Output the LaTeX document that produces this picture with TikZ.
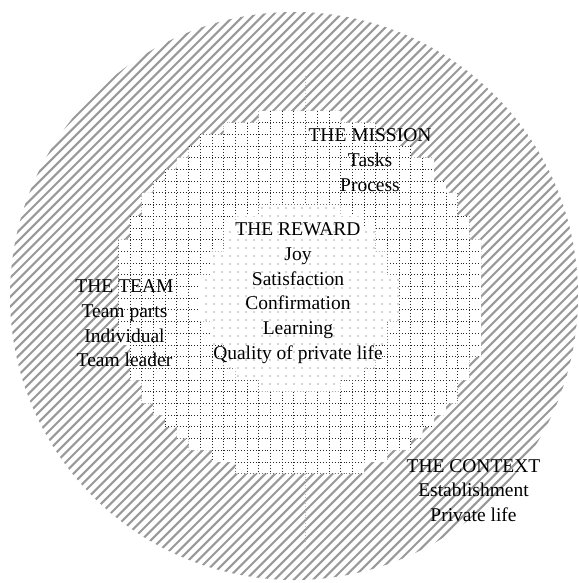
\documentclass[tikz,border=0pt]{standalone}
\usepackage{fontspec}
\setmainfont{Liberation Serif}
\definecolor{stripegray}{gray}{0.6}
\definecolor{dotgray}{gray}{0.3}
\def\s{11.7}
\def\Xz{94.9}
\def\Yz{75.8}
\newcommand\buildstep[4]{%
  \gdef#1{}%
  \foreach \m in {0,...,40} {%
    \pgfmathsetmacro\yt{\Yz+\m*\s}%
    \pgfmathsetmacro\yb{\yt+\s}%
    \pgfmathsetmacro\myt{(\yt+0.5*\s-#3)/#4}%
    \pgfmathsetmacro\hh{#4*sqrt(max(0,1-\myt*\myt))}%
    \pgfmathsetmacro\xl{\Xz+\s*round((#2-\hh-\Xz)/\s)}%
    \pgfmathsetmacro\xr{\Xz+\s*round((#2+\hh-\Xz)/\s)}%
    \xdef#1{#1 (\xl,\yt) rectangle (\xr,\yb)}%
  }%
}
\begin{document}
\begin{tikzpicture}[x=1pt,y=-1pt,
  lbl/.style={anchor=base, inner sep=0pt, font=\fontsize{19.5}{24.5}\selectfont, text=black},
  gridline/.style={draw=black!85, line width=0.8pt, dash pattern=on 0.8pt off 2.125pt},
  stripe/.style={draw=stripegray, line width=2.1pt},
  dotmark/.style={fill=dotgray}]
\useasboundingbox (0,0) rectangle (578,583);
\buildstep{\midpath}{300}{295}{184}
\buildstep{\innpath}{300}{298}{97}
% outer ring: diagonal stripes
\begin{scope}
  \clip (294,296) circle[radius=284pt];
  \foreach \c in {0,9.6,...,1206} \draw[stripe] (\c+10,-10) -- (-10,\c+10);
\end{scope}
% middle region: dotted grid
\edef\tmp{\noexpand\fill[white] \midpath;}\tmp
\begin{scope}
  \edef\tmp{\noexpand\clip \midpath;}\tmp
  \foreach \k in {0,...,36} \draw[gridline] (\Xz+\k*\s,\Yz) -- (\Xz+\k*\s,\Yz+40*\s);
  \foreach \k in {0,...,40} \draw[gridline] (\Xz,\Yz+\k*\s) -- (\Xz+36*\s,\Yz+\k*\s);
\end{scope}
% inner region: dots
\edef\tmp{\noexpand\fill[white] \innpath;}\tmp
\begin{scope}
  \edef\tmp{\noexpand\clip \innpath;}\tmp
  \foreach \i in {0,...,26} \foreach \j in {0,...,25}
    \fill[dotmark] (198+\i*8,200+\j*8) circle[radius=0.6pt];
\end{scope}
% texts
\node[lbl] (m1) at (370,141.5) {THE MISSION};
\node[lbl] (m2) at (370,166.3) {Tasks};
\node[lbl] (m3) at (370,191.1) {Process};
\node[lbl] (r1) at (298,235.5) {THE REWARD};
\node[lbl] (r2) at (298,260.3) {Joy};
\node[lbl] (r3) at (298,285.1) {Satisfaction};
\node[lbl] (r4) at (298,309.9) {Confirmation};
\node[lbl] (r5) at (298,334.7) {Learning};
\node[lbl] (r6) at (298,359.5) {Quality of private life};
\node[lbl] (t1) at (124.5,292.5) {THE TEAM};
\node[lbl] (t2) at (124.5,317.3) {Team parts};
\node[lbl] (t3) at (124.5,342.1) {Individual};
\node[lbl] (t4) at (124.5,366.9) {Team leader};
\node[lbl] (c1) at (473.5,472) {THE CONTEXT};
\node[lbl] (c2) at (473.5,496.8) {Establishment};
\node[lbl] (c3) at (473.5,521.6) {Private life};
\end{tikzpicture}
\end{document}
